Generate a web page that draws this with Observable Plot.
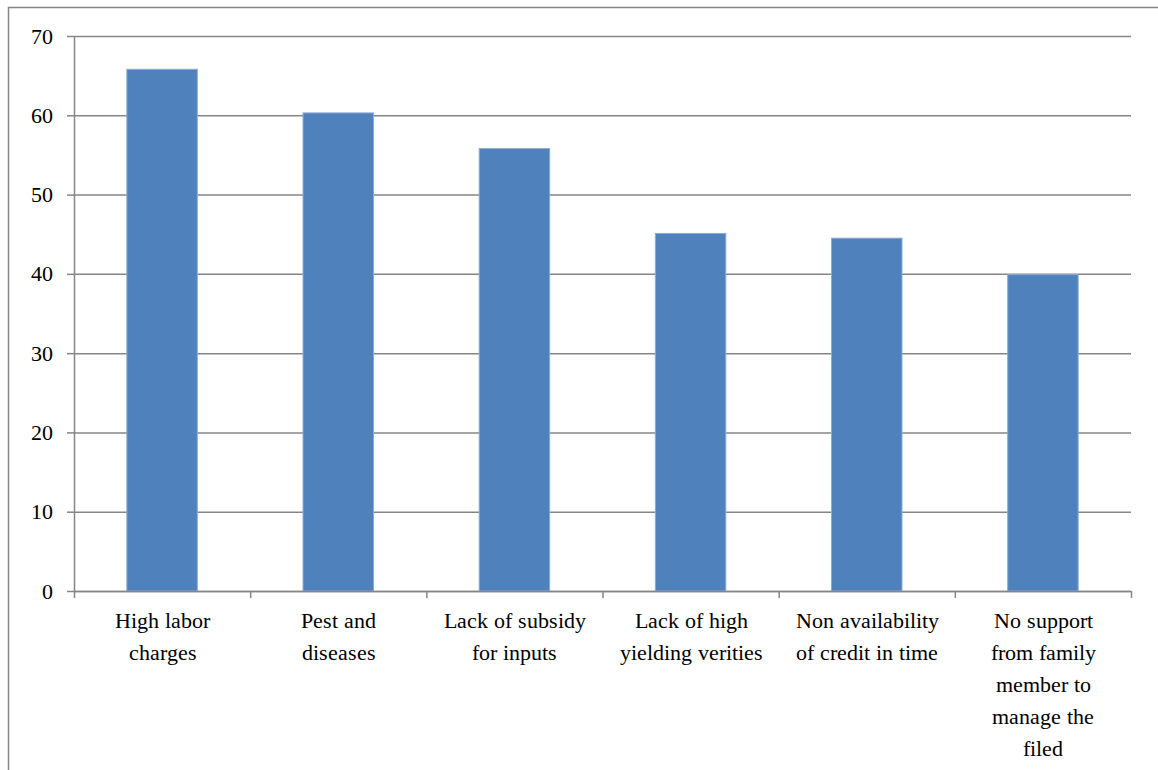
<!DOCTYPE html>
<html>
<head>
<meta charset="utf-8">
<script src="https://cdn.jsdelivr.net/npm/d3@7"></script>
<script src="https://cdn.jsdelivr.net/npm/@observablehq/plot@0.6"></script>
<style>
  @font-face { font-family: "ChartSerif"; src: local("Liberation Serif"), local("LiberationSerif"), local("Times New Roman"); }
  html, body { margin: 0; padding: 0; background: #fff; }
</style>
</head>
<body>
<script>
const categories = [
  "High labor\ncharges",
  "Pest and\ndiseases",
  "Lack of subsidy\nfor inputs",
  "Lack of high\nyielding verities",
  "Non availability\nof credit in time",
  "No support\nfrom family\nmember to\nmanage the\nfiled"
];
const values = [65.8, 60.3, 55.8, 45.1, 44.5, 39.9];
const yTicks = [0, 10, 20, 30, 40, 50, 60, 70];

const data = categories.map((c, i) => ({cat: c, idx: i, value: values[i]}));
const gray = "#868686";
const font = "ChartSerif, 'Liberation Serif', 'Times New Roman', Tinos, serif";

const chart = Plot.plot({
  width: 1158,
  height: 770,
  marginLeft: 74,
  marginRight: 27,
  marginTop: 36,
  marginBottom: 179,
  style: {fontFamily: font, fontSize: "22px"},
  x: {type: "linear", domain: [0, categories.length]},
  y: {domain: [0, 70]},
  marks: [
    Plot.gridY(yTicks, {stroke: gray, strokeOpacity: 1, strokeWidth: 1.5}),
    Plot.rectY(data, {
      x1: d => d.idx + 0.3, x2: d => d.idx + 0.7, y1: 0, y2: "value",
      fill: "#4F81BD", stroke: "#8EAAD6", strokeWidth: 1
    }),
    Plot.ruleX([0], {stroke: gray, strokeWidth: 1.5}),
    Plot.ruleY([0], {stroke: gray, strokeWidth: 1.5}),
    Plot.axisY(yTicks, {tickSize: 7, tickPadding: 15, stroke: gray, strokeWidth: 1.5, label: null,
      fontSize: 22, fontFamily: font, fill: "#000"}),
    Plot.axisX(d3.range(categories.length + 1), {tickSize: 7, tickFormat: () => "", stroke: gray,
      strokeWidth: 1.5, label: null}),
    Plot.text(data, {
      x: d => d.idx + 0.5, y: 0, text: "cat", lineAnchor: "top", dy: 14,
      fontSize: 22, fontFamily: font, lineHeight: 1.45, fill: "#000", textAnchor: "middle"
    })
  ]
});
// outer frame (top and left edges of the chart border)
d3.select(chart).append("path")
  .attr("d", "M8.5,800 L8.5,7.5 L1200,7.5")
  .attr("fill", "none").attr("stroke", gray).attr("stroke-width", 1.5);
d3.select(chart).attr("font-family", font);
d3.select(chart).selectAll("text, tspan").attr("font-family", font).style("font-family", font);
document.body.appendChild(chart);
</script>
</body>
</html>
